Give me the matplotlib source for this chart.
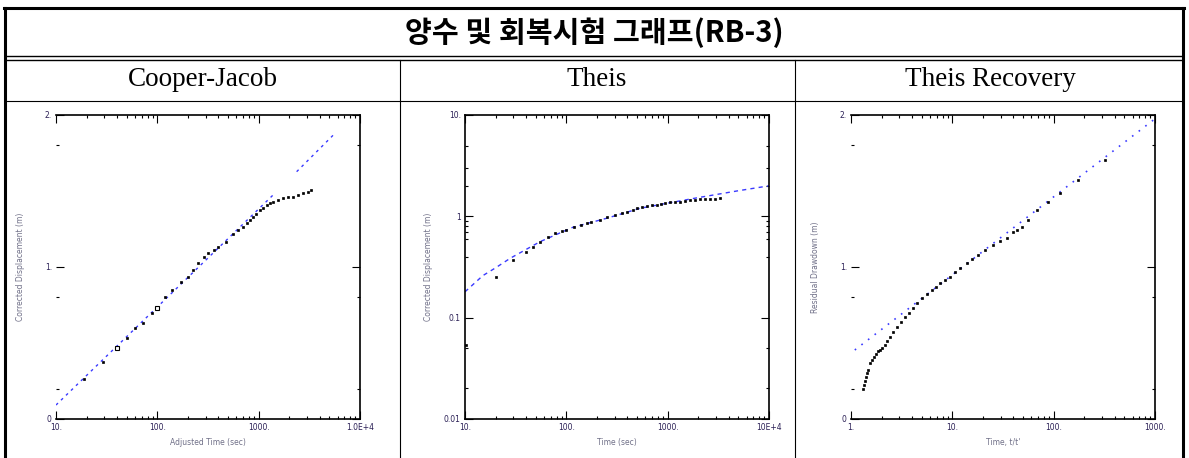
import numpy as np
import matplotlib
matplotlib.use("Agg")
import matplotlib.pyplot as plt
from matplotlib.lines import Line2D
from matplotlib.ticker import FixedLocator, NullFormatter

plt.rcParams['font.family'] = ['DejaVu Sans']

title = "양수 및 회복시험 그래프(RB-3)"
headers = ["Cooper-Jacob", "Theis", "Theis Recovery"]

# Cooper-Jacob: adjusted time (sec) vs drawdown (m)
cj_time = [19, 29, 40, 50, 60, 73, 88, 100, 120, 140, 170, 202, 226, 253, 288, 317,
           360, 397, 480, 560, 627, 700, 760, 820, 885, 950, 1030, 1110, 1200, 1300,
           1390, 1550, 1730, 1950, 2180, 2450, 2750, 3050, 3320]
cj_draw = [0.26, 0.377, 0.465, 0.53, 0.597, 0.63, 0.695, 0.728, 0.805, 0.849, 0.9, 0.936,
           0.98, 1.024, 1.068, 1.09, 1.11, 1.134, 1.167, 1.22, 1.244, 1.265, 1.287, 1.31,
           1.33, 1.35, 1.375, 1.39, 1.408, 1.42, 1.43, 1.44, 1.452, 1.458, 1.463, 1.472,
           1.485, 1.495, 1.507]
cj_fit_time = [10, 1445, np.nan, 2370, 5660]
cj_fit_draw = [0.092, 1.485, np.nan, 1.627, 1.879]

# Theis: time (sec) vs drawdown (m), log-log
th_time = [10.3, 20, 30, 40, 47, 55, 66, 77, 90, 100, 120, 141, 160, 176, 214, 250, 300,
           352, 400, 450, 495, 560, 630, 700, 780, 860, 940, 1050, 1180, 1320, 1480,
           1650, 1850, 2080, 2330, 2610, 2900, 3260]
th_draw = [0.054, 0.254, 0.37, 0.448, 0.5, 0.56, 0.62, 0.68, 0.71, 0.733, 0.79, 0.83,
           0.86, 0.885, 0.93, 0.99, 1.03, 1.07, 1.1, 1.15, 1.2, 1.23, 1.26, 1.28,
           1.3, 1.32, 1.35, 1.37, 1.385, 1.4, 1.42, 1.44, 1.45, 1.47, 1.48, 1.48, 1.49, 1.51]
th_fit_time = [10, 15, 20, 28, 55, 116, 250, 533, 1000, 2000, 5000, 10000]
th_fit_draw = [0.18, 0.26, 0.31, 0.386, 0.562, 0.78, 0.957, 1.2, 1.35, 1.53, 1.79, 2.0]

# Theis Recovery: t/t' vs residual drawdown (m)
tr_ratio = [1.32, 1.34, 1.37, 1.40, 1.44, 1.48, 1.54, 1.60, 1.67, 1.75, 1.84, 1.93, 2.03,
            2.15, 2.28, 2.43, 2.6, 2.84, 3.1, 3.41, 3.75, 4.09, 4.5, 5.02, 5.6, 6.3, 6.9,
            7.55, 8.5, 9.48, 10.6, 11.9, 13.9, 15.8, 17.9, 21, 25.2, 29.5, 34.7, 39.8,
            43.1, 48.3, 56.2, 67.9, 88.6, 115.5, 175, 321]
tr_draw = [0.20, 0.225, 0.25, 0.275, 0.30, 0.325, 0.368, 0.39, 0.41, 0.43, 0.445, 0.454,
           0.47, 0.49, 0.515, 0.539, 0.57, 0.605, 0.64, 0.671, 0.70, 0.730, 0.76, 0.796,
           0.82, 0.849, 0.87, 0.895, 0.915, 0.934, 0.965, 0.993, 1.026, 1.05, 1.079, 1.11,
           1.145, 1.17, 1.191, 1.23, 1.245, 1.265, 1.309, 1.375, 1.43, 1.485, 1.572, 1.704]
tr_fit_ratio = [1.09, 964]
tr_fit_draw = [0.454, 1.967]

W, H = 1189, 458
fig = plt.figure(figsize=(W / 100, H / 100), dpi=100)


def px_line(x0, y0, x1, y1, lw=1.0):
    fig.add_artist(Line2D([x0 / W, x1 / W], [1 - y0 / H, 1 - y1 / H],
                          color='black', lw=lw, transform=fig.transFigure))


# table grid
px_line(4, 8, 1184, 8, 2.2)
px_line(5, 8, 5, 458, 2.2)
px_line(1183, 8, 1183, 458, 2.2)
px_line(5, 56, 1183, 56, 1.0)
px_line(5, 60, 1183, 60, 1.0)
px_line(5, 101, 1183, 101, 0.8)
px_line(400, 60, 400, 458, 0.8)
px_line(795, 60, 795, 458, 0.8)

fig.text(594 / W, 1 - 33 / H, title, ha='center', va='center', fontsize=21,
         fontweight='bold', family=['Noto Sans CJK KR', 'DejaVu Sans'])
for cx, h in zip([203, 597, 990], headers):
    fig.text(cx / W, 1 - 80 / H, h, ha='center', va='center', fontsize=19.5,
             family='Liberation Serif')

tick_col = '#2a1f55'
lab_col = '#707088'
blue = '#3a3aff'
mk = dict(ls='none', marker='s', ms=1.9, mfc='black', mec='black', mew=0.5)


def make_axes(left, right):
    ax = fig.add_axes([left / W, (H - 419) / H, (right - left) / W, 304 / H])
    ax.tick_params(which='both', direction='in', top=True, right=True,
                   labelsize=5.5, labelcolor=tick_col, width=0.8, pad=3)
    ax.tick_params(which='major', length=6)
    ax.tick_params(which='minor', length=2.5)
    for s in ax.spines.values():
        s.set_linewidth(1.2)
    return ax


def lin_y(ax):
    ax.set_ylim(0, 2)
    ax.yaxis.set_major_locator(FixedLocator([0, 1, 2]))
    ax.set_yticklabels(["0", "1.", "2."])
    ax.yaxis.set_minor_locator(FixedLocator([0.2, 0.8, 1.8]))
    ax.spines['left'].set_visible(False)


# Cooper-Jacob
ax1 = make_axes(56, 360)
ax1.set_xscale('log')
ax1.set_xlim(10, 1e4)
ax1.set_xticks([10, 100, 1000, 10000])
ax1.set_xticklabels(["10.", "100.", "1000.", "1.0E+4"])
ax1.xaxis.set_minor_formatter(NullFormatter())
lin_y(ax1)
ax1.plot(cj_fit_time, cj_fit_draw, color=blue, lw=1.0, ls=(0, (2, 3)))
ax1.plot(cj_time, cj_draw, **mk)
ax1.plot([40, 100], [0.465, 0.728], ls='none', marker='s', ms=3, mfc='white',
         mec='black', mew=0.8)
ax1.set_xlabel("Adjusted Time (sec)", fontsize=5.5, color=lab_col, labelpad=4)
ax1.set_ylabel("Corrected Displacement (m)", fontsize=5.5, color=lab_col, labelpad=14)

# Theis
ax2 = make_axes(465, 769)
ax2.set_xscale('log')
ax2.set_yscale('log')
ax2.set_xlim(10, 1e4)
ax2.set_ylim(0.01, 10)
ax2.set_xticks([10, 100, 1000, 10000])
ax2.set_xticklabels(["10.", "100.", "1000.", "10E+4"])
ax2.set_yticks([0.01, 0.1, 1, 10])
ax2.set_yticklabels(["0.01", "0.1", "1", "10."])
ax2.yaxis.set_minor_locator(FixedLocator([0.02, 0.05, 0.4, 0.6, 0.7, 0.8, 0.9, 2, 3, 5]))
ax2.xaxis.set_minor_formatter(NullFormatter())
ax2.yaxis.set_minor_formatter(NullFormatter())
ax2.plot(th_fit_time, th_fit_draw, color=blue, lw=1.0, ls=(0, (3, 3)))
ax2.plot(th_time, th_draw, **mk)
ax2.set_xlabel("Time (sec)", fontsize=5.5, color=lab_col, labelpad=4)
ax2.set_ylabel("Corrected Displacement (m)", fontsize=5.5, color=lab_col, labelpad=8)

# Theis Recovery
ax3 = make_axes(851, 1155)
ax3.set_xscale('log')
ax3.set_xlim(1, 1000)
ax3.set_xticks([1, 10, 100, 1000])
ax3.set_xticklabels(["1.", "10.", "100.", "1000."])
ax3.xaxis.set_minor_formatter(NullFormatter())
lin_y(ax3)
ax3.plot(tr_fit_ratio, tr_fit_draw, color=blue, lw=1.2, ls=(0, (1, 4)))
ax3.plot(tr_ratio, tr_draw, **mk)
ax3.set_xlabel("Time, t/t'", fontsize=5.5, color=lab_col, labelpad=4)
ax3.set_ylabel("Residual Drawdown (m)", fontsize=5.5, color=lab_col, labelpad=14)

fig.savefig("out.png", dpi=100)
